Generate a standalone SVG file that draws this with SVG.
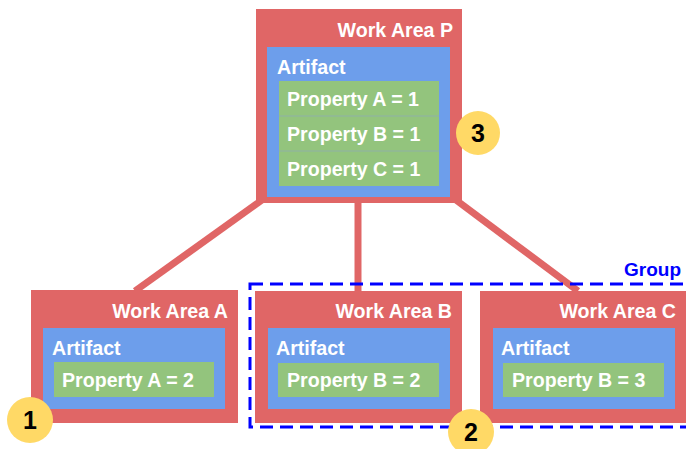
<svg xmlns="http://www.w3.org/2000/svg" width="686" height="449" viewBox="0 0 686 449">
<style>
.wa{fill:#e06666}
.ar{fill:#6d9eeb}
.pr{fill:#93c47d}
.sep{stroke:#8fb0a8;stroke-width:1}
.t{font-family:"Liberation Sans",Arial,sans-serif;font-weight:bold;font-size:19.6px;fill:#ffffff}
.tr{text-anchor:end}
.g{font-family:"Liberation Sans",Arial,sans-serif;font-weight:bold;font-size:19px;fill:#0000ff;text-anchor:end}
.c{fill:#ffd966}
.n{font-family:"Liberation Sans",Arial,sans-serif;font-weight:bold;font-size:25px;fill:#000000;text-anchor:middle}
.conn{stroke:#e06666;stroke-width:7;fill:none}
</style>
<rect width="686" height="449" fill="#ffffff"/>
<g id="connectors">
<line class="conn" x1="262" y1="200" x2="135" y2="291"/>
<line class="conn" x1="358" y1="200" x2="358" y2="291"/>
<line class="conn" x1="456" y1="200" x2="578" y2="291"/>
</g>
<g id="workAreaP">
<rect class="wa" x="256" y="9" width="206" height="194"/>
<text class="t tr" x="453" y="37">Work Area P</text>
<rect class="ar" x="267" y="47" width="183" height="150"/>
<text class="t" x="277" y="74">Artifact</text>
<rect class="pr" x="279" y="81" width="160" height="105"/>
<line class="sep" x1="279" y1="116" x2="439" y2="116"/>
<line class="sep" x1="279" y1="151" x2="439" y2="151"/>
<text class="t" x="287" y="106">Property A = 1</text>
<text class="t" x="287" y="141">Property B = 1</text>
<text class="t" x="287" y="176">Property C = 1</text>
</g>
<g id="workAreaA">
<rect class="wa" x="31" y="290" width="207" height="133"/>
<text class="t tr" x="228" y="318">Work Area A</text>
<rect class="ar" x="43" y="328" width="182" height="81"/>
<text class="t" x="52" y="355">Artifact</text>
<rect class="pr" x="54" y="362" width="160" height="35"/>
<text class="t" x="62" y="387">Property A = 2</text>
</g>
<g id="workAreaB">
<rect class="wa" x="255" y="291" width="207" height="132"/>
<text class="t tr" x="452" y="318">Work Area B</text>
<rect class="ar" x="268" y="328" width="182" height="81"/>
<text class="t" x="276" y="355">Artifact</text>
<rect class="pr" x="278" y="363" width="161" height="34"/>
<text class="t" x="287" y="387">Property B = 2</text>
</g>
<g id="workAreaC">
<rect class="wa" x="480" y="291" width="207" height="132"/>
<text class="t tr" x="676" y="318">Work Area C</text>
<rect class="ar" x="493" y="328" width="182" height="81"/>
<text class="t" x="501" y="355">Artifact</text>
<rect class="pr" x="503" y="363" width="161" height="34"/>
<text class="t" x="512" y="387">Property B = 3</text>
</g>
<g id="group">
<rect x="250" y="284" width="450" height="143" fill="none" stroke="#0000ff" stroke-width="3" stroke-dasharray="13,7"/>
<text class="g" x="681" y="276">Group</text>
</g>
<g id="badge1">
<circle class="c" cx="30" cy="420" r="23"/>
<text class="n" x="30" y="429">1</text>
</g>
<g id="badge2">
<circle class="c" cx="471" cy="432" r="23"/>
<text class="n" x="471" y="441">2</text>
</g>
<g id="badge3">
<circle class="c" cx="478" cy="133" r="22"/>
<text class="n" x="478" y="142">3</text>
</g>
</svg>
